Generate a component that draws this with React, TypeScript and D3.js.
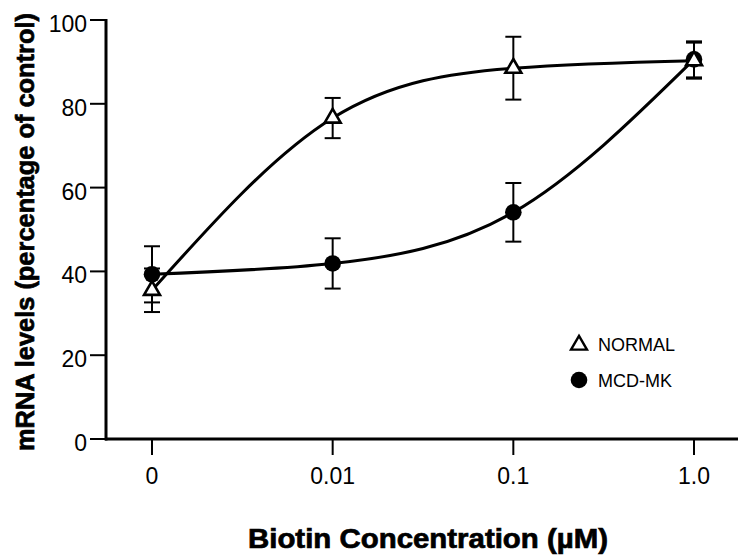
import React from "react";
import * as d3 from "d3";

const categories = ["0", "0.01", "0.1", "1.0"];
const normalValues = [35.5, 76.6, 88.5, 90.3];
const normalErrors = [5.2, 4.8, 7.5, 4.3];
const mcdValues = [39.3, 41.9, 54.1, 90.6];
const mcdErrors = [6.7, 6.0, 7.0, 4.3];
const yTicks = [0, 20, 40, 60, 80, 100];
const legendLabels = ["NORMAL", "MCD-MK"];

const W = 745;
const H = 559;

export default function App() {
  const x = d3.scalePoint<string>().domain(categories).range([152, 694]);
  const y = d3.scaleLinear().domain([0, 100]).range([439, 20]);

  const line = d3
    .line<number>()
    .x((_, i) => x(categories[i]) as number)
    .y((d) => y(d))
    .curve(d3.curveNatural);

  const tri = d3.symbol().type(d3.symbolTriangle).size(110)();

  const errBar = (v: number, e: number, cx: number, key: string) => (
    <g key={key} stroke="#000" strokeWidth={2}>
      <line x1={cx} x2={cx} y1={y(v + e)} y2={y(v - e)} />
      <line x1={cx - 8} x2={cx + 8} y1={y(v + e)} y2={y(v + e)} />
      <line x1={cx - 8} x2={cx + 8} y1={y(v - e)} y2={y(v - e)} />
    </g>
  );

  const font = "'Liberation Sans', Arial, Helvetica, sans-serif";

  return (
    <svg
      width={W}
      height={H}
      style={{ position: "absolute", left: 0, top: 0, background: "#fff" }}
      fontFamily={font}
    >
      <rect width={W} height={H} fill="#fff" />
      {/* curves */}
      <path d={line(normalValues) || ""} fill="none" stroke="#000" strokeWidth={3} />
      <path d={line(mcdValues) || ""} fill="none" stroke="#000" strokeWidth={3} />

      {/* error bars */}
      {mcdValues.map((v, i) => errBar(v, mcdErrors[i], x(categories[i]) as number, "me" + i))}
      {normalValues.map((v, i) => errBar(v, normalErrors[i], x(categories[i]) as number, "ne" + i))}

      {/* markers */}
      {mcdValues.map((v, i) => (
        <circle key={"mc" + i} cx={x(categories[i]) as number} cy={y(v)} r={8.3} fill="#000" />
      ))}
      {normalValues.map((v, i) => (
        <path
          key={"nt" + i}
          d={tri || ""}
          transform={`translate(${x(categories[i])},${y(v)})`}
          fill="#fff"
          stroke="#000"
          strokeWidth={2.6}
        />
      ))}

      {/* Y axis */}
      <line x1={106} x2={106} y1={y(100) - 1} y2={y(0) + 1.5} stroke="#000" strokeWidth={3} />
      {yTicks.map((t) => (
        <g key={"yt" + t}>
          <line x1={90} x2={106} y1={y(t)} y2={y(t)} stroke="#000" strokeWidth={2} />
          <text x={87} y={y(t) + 12} textAnchor="end" fontSize={23} fill="#000">
            {t}
          </text>
        </g>
      ))}

      {/* X axis */}
      <line x1={105} x2={738} y1={y(0)} y2={y(0)} stroke="#000" strokeWidth={3} />
      {categories.map((c) => (
        <g key={"xt" + c}>
          <line x1={x(c) as number} x2={x(c) as number} y1={y(0)} y2={y(0) + 16} stroke="#000" strokeWidth={2} />
          <text x={x(c) as number} y={484} textAnchor="middle" fontSize={23} fill="#000">
            {c}
          </text>
        </g>
      ))}

      {/* axis titles */}
      <text
        x={428}
        y={548}
        textAnchor="middle"
        fontSize={27}
        fontWeight={900}
        textLength={360}
        lengthAdjust="spacingAndGlyphs"
        fill="#000"
        stroke="#000"
        strokeWidth={0.7}
      >
        Biotin Concentration (µM)
      </text>
      <text
        transform="translate(34,232) rotate(-90)"
        textAnchor="middle"
        fontSize={25}
        fontWeight={900}
        textLength={438}
        lengthAdjust="spacingAndGlyphs"
        fill="#000"
        stroke="#000"
        strokeWidth={0.7}
      >
        mRNA levels (percentage of control)
      </text>

      {/* legend */}
      <path d={tri || ""} transform="translate(579,345)" fill="#fff" stroke="#000" strokeWidth={2.4} />
      <text x={598} y={351} fontSize={18} fill="#000">
        {legendLabels[0]}
      </text>
      <circle cx={579} cy={380} r={8.3} fill="#000" />
      <text x={598} y={387} fontSize={18} fill="#000">
        {legendLabels[1]}
      </text>
    </svg>
  );
}
